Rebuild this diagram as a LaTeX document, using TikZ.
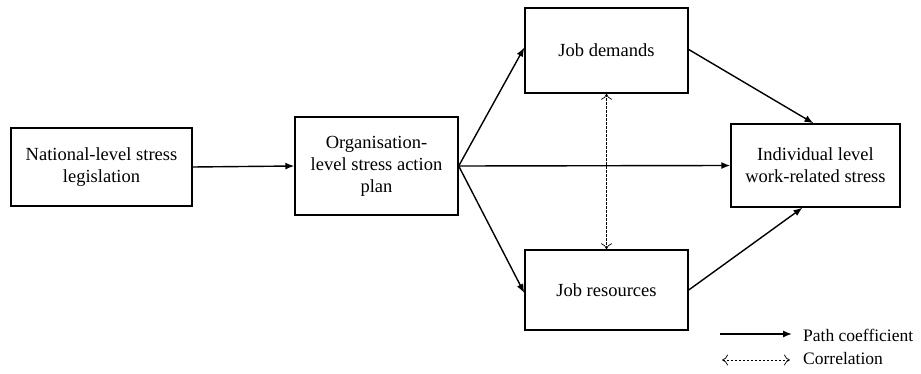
\documentclass[tikz,border=0pt]{standalone}
\usepackage{fontspec}
\setmainfont{Liberation Serif}
\usetikzlibrary{arrows.meta,calc}
\begin{document}
\begin{tikzpicture}[x=1pt,y=-1pt,
  box/.style={draw,line width=1.4pt,align=center,inner sep=2pt,font=\fontsize{18.5}{22}\selectfont},
  path/.style={line width=1.4pt,-{Latex[length=9pt,width=7pt]}},
  corr/.style={line width=0.7pt,dashed,dash pattern=on 2.5pt off 1.5pt,{To[length=6pt,width=11pt]}-{To[length=6pt,width=11pt]}},
  lbl/.style={anchor=west,inner sep=0pt,font=\fontsize{17.5}{21}\selectfont}]
\useasboundingbox (0,0) rectangle (921,374);
\node[box,minimum width=181pt,minimum height=78pt] (b1) at (101.5,167) {National-level stress\\legislation};
\node[box,minimum width=163pt,minimum height=98pt] (b2) at (376.5,166) {Organisation-\\level stress action\\plan};
\node[box,minimum width=163pt,minimum height=85pt] (jd) at (606.5,50.5) {Job demands};
\node[box,minimum width=163pt,minimum height=80pt] (jr) at (606.5,290) {Job resources};
\node[box,minimum width=169pt,minimum height=83pt] (ind) at (815.5,165.5) {Individual level\\work-related stress};
\draw[path] (b1.east) -- (b2.west);
\draw[path] (b2.east) -- ([yshift=3pt]jd.west);
\draw[path] (b2.east) -- ([yshift=-3pt]jr.west);
\draw[path] (b2.east) -- (ind.west);
\draw[path] ([yshift=1pt]jd.east) -- ([xshift=-2pt]ind.north);
\draw[path] (jr.east) -- ([xshift=-13pt]ind.south);
\draw[corr] (jd.south) -- (jr.north);
% legend
\coordinate (pa) at (720,334);
\coordinate (pb) at (792,334);
\coordinate (ca) at (722,360);
\coordinate (cb) at (790,360);
\draw[path] (pa) -- (pb);
\draw[corr] (ca) -- (cb);
\node[lbl] (lp) at (803,335) {Path coefficient};
\node[lbl] (lc) at (803,359) {Correlation};
\end{tikzpicture}
\end{document}
